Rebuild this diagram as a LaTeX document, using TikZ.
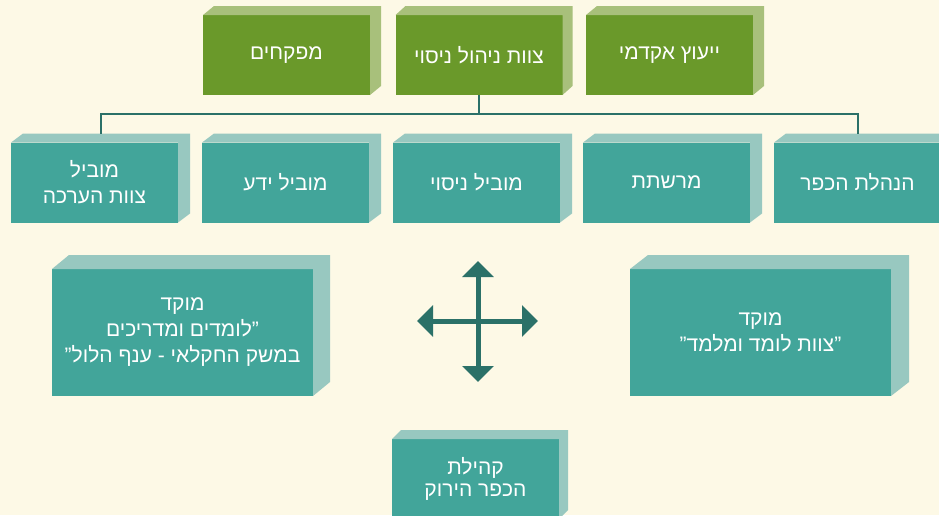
\documentclass[tikz,border=0pt]{standalone}
\usepackage{fontspec}
\usetikzlibrary{calc,arrows.meta}
\TeXXeTstate=1
\newfontfamily\hebfont[Script=Hebrew]{Liberation Sans}
\definecolor{bgcream}{HTML}{FDF9E6}
\definecolor{leafgreen}{HTML}{6A992A}
\definecolor{leaflight}{HTML}{A8C07B}
\definecolor{teal}{HTML}{42A59A}
\definecolor{teallight}{HTML}{98C8C0}
\definecolor{linkteal}{HTML}{2B7168}
\newcommand{\depth}[4]{\fill[#4] (#1.north west) -- ++(#2,-#3) -- ($(#1.north east)+(#2,-#3)$) -- ($(#1.south east)+(#2,-#3)$) -- (#1.south east) -- (#1.north east) -- cycle;}
\newcommand{\R}[1]{\beginR #1\endR}

\begin{document}
\begin{tikzpicture}[x=0.75pt,y=-0.75pt,
  box/.style={inner sep=0pt,outer sep=0pt,text=white,align=center,
    minimum width=125.25pt,minimum height=60pt,
    font=\hebfont\fontsize{15.75}{19.5}\selectfont},
  greenbox/.style={box,fill=leafgreen},
  tealbox/.style={box,fill=teal},
  bigbox/.style={tealbox,minimum width=195.75pt,minimum height=95.25pt},
  link/.style={draw=linkteal,line width=1.5pt},
  cross/.style={draw=linkteal,line width=3.75pt,{Triangle[width=23pt,length=12pt]}-{Triangle[width=23pt,length=12pt]}}]
\fill[bgcream] (0,0) rectangle (939,515);
\useasboundingbox (0,0) rectangle (939,515);
% top row
\node[greenbox] (mefakchim) at (286.5,55) {\R{מפקחים}};
\node[greenbox] (nihul) at (479,55) {\R{צוות ניהול ניסוי}};
\node[greenbox] (yeutz) at (669.5,55) {\R{ייעוץ אקדמי}};
\depth{mefakchim}{11}{9}{leaflight}
\depth{nihul}{10}{9}{leaflight}
\depth{yeutz}{11}{9}{leaflight}
% second row
\node[tealbox] (haaracha) at (94.5,182.5) {\R{מוביל}\\\R{צוות הערכה}};
\node[tealbox] (yeda) at (285.5,182.5) {\R{מוביל ידע}};
\node[tealbox] (nisui) at (476.5,182.5) {\R{מוביל ניסוי}};
\node[tealbox] (marshetet) at (666.5,182.5) {\R{מרשתת}};
\node[tealbox] (hanhala) at (857.5,182.5) {\R{הנהלת הכפר}};
\foreach \n in {haaracha,yeda,nisui,marshetet,hanhala}
  \depth{\n}{12}{9}{teallight}
% focus boxes
\node[bigbox] (lomdim) at (182.5,332.5) {\R{מוקד}\\\R{”\kern0pt לומדים ומדריכים}\\\R{במשק החקלאי - ענף הלול\kern0pt”}};
\node[bigbox] (tzevet) at (760.5,332.5) {\R{מוקד}\\\R{”\kern0pt צוות לומד ומלמד\kern0pt”}};
\depth{lomdim}{17}{14}{teallight}
\depth{tzevet}{18}{14}{teallight}
\node[tealbox,font=\hebfont\fontsize{15.75}{16.5}\selectfont] (kehila) at (475.5,479) {\R{קהילת}\\\R{הכפר הירוק}};
\depth{kehila}{9}{9}{teallight}
% connectors
\coordinate (bus) at (479,114);
\draw[link] (nihul.south) -- (bus);
\draw[link] ($(haaracha.north)+(6,-9)$) |- (bus) -| ($(hanhala.north)+(0,-9)$);
\coordinate (up) at (478,261);
\coordinate (down) at (478,382);
\coordinate (left) at (417,321);
\coordinate (right) at (538,321);
\draw[cross] (up) -- (down);
\draw[cross] (left) -- (right);
\end{tikzpicture}
\end{document}
